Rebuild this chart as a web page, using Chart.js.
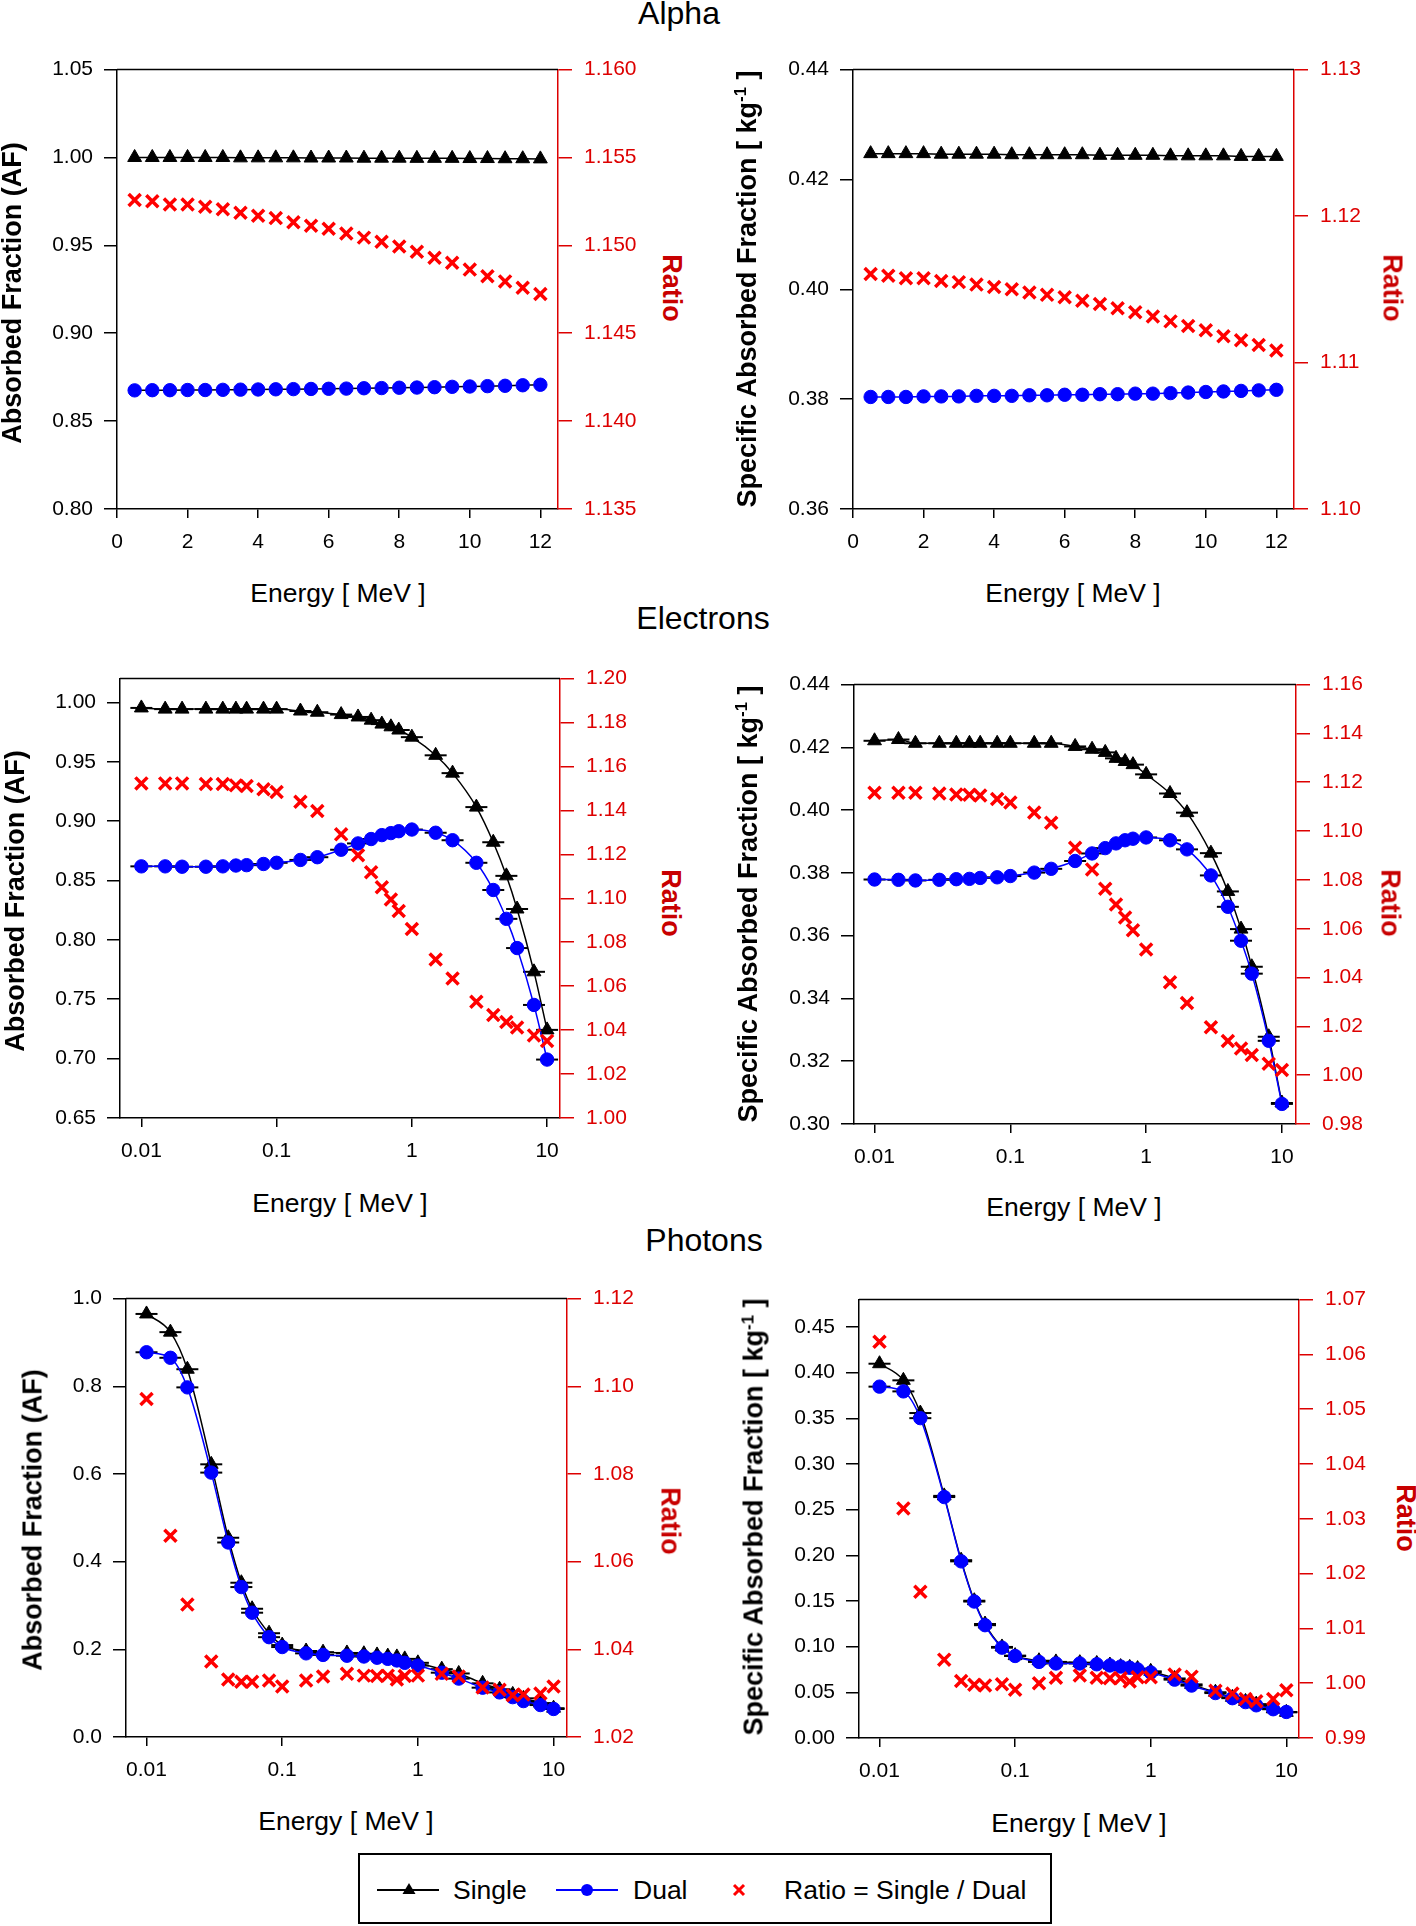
<!DOCTYPE html>
<html><head><meta charset="utf-8">
<script src="https://cdn.jsdelivr.net/npm/chart.js@4.4.1/dist/chart.umd.min.js"></script>
<style>
body{margin:0;background:#fff;width:1416px;height:1926px;position:relative;overflow:hidden;font-family:"Liberation Sans",Arial,sans-serif;color:#000;}
.t{position:absolute;white-space:nowrap;line-height:1;transform:translate(-50%,-50%);}
.title{font-size:32px;}
.xt{font-size:26.5px;}
.yt{font-size:27px;font-weight:bold;transform:translate(-50%,-50%) rotate(-90deg);}
.rt{font-size:27px;font-weight:bold;color:#c80000;transform:translate(-50%,-50%) rotate(90deg);}
.yt sup{font-size:0.62em;vertical-align:0.55em;line-height:0;}
.cv{position:absolute;}
.lg{position:absolute;font-size:26.5px;line-height:1;white-space:nowrap;transform:translateY(-50%);}
</style>
</head><body>
<script>
// ---------------- DATA ----------------
const alphaEnergy = [0.5,1,1.5,2,2.5,3,3.5,4,4.5,5,5.5,6,6.5,7,7.5,8,8.5,9,9.5,10,10.5,11,11.5,12];
const alphaAF_single = [1.000,1.000,1.000,1.000,1.000,1.000,0.9998,0.9998,0.9998,0.9998,0.9997,0.9997,0.9997,0.9996,0.9996,0.9996,0.9995,0.9995,0.9995,0.9994,0.9994,0.9993,0.9993,0.9992];
const alphaAF_dual = [0.8675,0.8676,0.8676,0.8677,0.8677,0.8678,0.8679,0.8680,0.8681,0.8682,0.8683,0.8684,0.8685,0.8687,0.8688,0.8690,0.8691,0.8693,0.8695,0.8697,0.8699,0.8701,0.8704,0.8707];
const alphaAF_ratio = [1.15258,1.15251,1.15233,1.15233,1.1522,1.15206,1.15186,1.15168,1.15155,1.15132,1.15112,1.15094,1.15067,1.15044,1.1502,1.14993,1.14964,1.1493,1.14901,1.14862,1.14824,1.14795,1.14759,1.14723];
const alphaSAF_single = [0.4247,0.4247,0.4247,0.4247,0.4246,0.4246,0.4246,0.4246,0.4245,0.4245,0.4245,0.4245,0.4245,0.4244,0.4244,0.4244,0.4244,0.4243,0.4243,0.4243,0.4243,0.4242,0.4242,0.4242];
const alphaSAF_dual = [0.3804,0.3804,0.3804,0.3805,0.3805,0.3805,0.3806,0.3806,0.3806,0.3807,0.3807,0.3808,0.3808,0.3809,0.3809,0.3810,0.3810,0.3811,0.3812,0.3813,0.3814,0.3815,0.3816,0.3817];
const alphaSAF_ratio = [1.11605,1.11592,1.11576,1.11576,1.11557,1.11549,1.11532,1.11516,1.115,1.11478,1.11462,1.11446,1.11422,1.114,1.1137,1.11344,1.11314,1.11281,1.11249,1.1122,1.11179,1.11152,1.1112,1.11082];

const elecEnergy = [0.01,0.015,0.02,0.03,0.04,0.05,0.06,0.08,0.1,0.15,0.2,0.3,0.4,0.5,0.6,0.7,0.8,1,1.5,2,3,4,5,6,8,10];
const elecAF_single = [0.9953,0.9943,0.9943,0.9943,0.9943,0.9943,0.9943,0.9943,0.9943,0.9927,0.9917,0.9897,0.9877,0.985,0.9817,0.9794,0.9767,0.9707,0.9554,0.9404,0.9118,0.8822,0.8539,0.826,0.7731,0.7242];
const elecAF_dual = [0.8619,0.8619,0.8616,0.8616,0.8619,0.8626,0.8629,0.8639,0.8649,0.8673,0.8696,0.8759,0.8812,0.8849,0.8882,0.8899,0.8915,0.8929,0.8902,0.8839,0.8649,0.842,0.8177,0.7931,0.7452,0.6992];
const elecAF_ratio = [1.1523,1.1523,1.1523,1.152,1.152,1.1514,1.1511,1.1496,1.1484,1.1439,1.1397,1.1291,1.1196,1.1119,1.105,1.0995,1.0942,1.086,1.0721,1.0635,1.0529,1.0469,1.0437,1.0412,1.0376,1.0351];
const elecSAF_single = [0.4221,0.4225,0.4213,0.4213,0.4213,0.4213,0.4213,0.4213,0.4213,0.4213,0.4213,0.4203,0.4194,0.4184,0.4165,0.4155,0.4145,0.4114,0.4053,0.3992,0.3863,0.3741,0.3621,0.3501,0.3278,0.3067];
const elecSAF_dual = [0.3779,0.3778,0.3776,0.3778,0.378,0.3781,0.3784,0.3786,0.379,0.3801,0.3813,0.3838,0.3862,0.3879,0.3894,0.3904,0.3909,0.3913,0.3904,0.3875,0.3792,0.3692,0.3584,0.3479,0.3265,0.3064];
const elecSAF_ratio = [1.1157,1.1157,1.1157,1.1154,1.115,1.1149,1.1146,1.1131,1.1117,1.1076,1.1034,1.0932,1.0843,1.0764,1.0699,1.0646,1.0594,1.0515,1.0381,1.0296,1.0196,1.014,1.0109,1.0083,1.0047,1.0021];

const photEnergy = [0.01,0.015,0.02,0.03,0.04,0.05,0.06,0.08,0.1,0.15,0.2,0.3,0.4,0.5,0.6,0.7,0.8,1,1.5,2,3,4,5,6,8,10];
const photAF_single = [0.965,0.9235,0.8389,0.622,0.4545,0.3519,0.2925,0.2367,0.2097,0.1962,0.1935,0.1917,0.1899,0.1872,0.1845,0.1827,0.1782,0.1692,0.1548,0.1449,0.1224,0.1089,0.0972,0.0882,0.0774,0.0657];
const photAF_dual = [0.8776,0.865,0.7975,0.6031,0.4437,0.342,0.2835,0.2277,0.2052,0.1908,0.1872,0.1854,0.1836,0.1809,0.1782,0.1746,0.1692,0.1629,0.1467,0.1332,0.1125,0.1017,0.0909,0.0819,0.0729,0.0639];
const photAF_ratio = [1.0971,1.0659,1.0502,1.0372,1.0331,1.0326,1.0326,1.0329,1.0315,1.0329,1.0338,1.0344,1.034,1.0339,1.034,1.0331,1.0339,1.034,1.0344,1.0338,1.0313,1.0308,1.0295,1.0297,1.0299,1.0315];
const photSAF_single = [0.4098,0.3916,0.3558,0.2651,0.1947,0.1503,0.1248,0.0997,0.0902,0.0846,0.0833,0.0825,0.0816,0.0799,0.0782,0.0773,0.076,0.073,0.0652,0.0587,0.0501,0.0445,0.0401,0.0371,0.032,0.0281];
const photSAF_dual = [0.3847,0.3795,0.3502,0.2638,0.1934,0.1494,0.1235,0.0989,0.0898,0.0833,0.0816,0.0816,0.0807,0.0794,0.0782,0.0769,0.0751,0.0717,0.0639,0.0574,0.0492,0.0436,0.0393,0.0358,0.0315,0.0285];
const photSAF_ratio = [1.0623,1.0319,1.0167,1.0043,1.0004,0.9997,0.9996,0.9998,0.9988,1.0,1.001,1.0014,1.001,1.0009,1.0009,1.0003,1.0011,1.0011,1.0016,1.0012,0.9986,0.9981,0.9971,0.9967,0.9971,0.9987];

// tick labels
const alphaXTicks = [0,2,4,6,8,10,12];
const logXTicks = [0.01,0.1,1,10];
const alphaAF_yTicks = [0.80,0.85,0.90,0.95,1.00,1.05];
const alphaAF_rTicks = [1.135,1.140,1.145,1.150,1.155,1.160];
const alphaSAF_yTicks = [0.36,0.38,0.40,0.42,0.44];
const alphaSAF_rTicks = [1.10,1.11,1.12,1.13];
const elecAF_yTicks = [0.65,0.70,0.75,0.80,0.85,0.90,0.95,1.00];
const elecAF_rTicks = [1.00,1.02,1.04,1.06,1.08,1.10,1.12,1.14,1.16,1.18,1.20];
const elecSAF_yTicks = [0.30,0.32,0.34,0.36,0.38,0.40,0.42,0.44];
const elecSAF_rTicks = [0.98,1.00,1.02,1.04,1.06,1.08,1.10,1.12,1.14,1.16];
const photAF_yTicks = [0.0,0.2,0.4,0.6,0.8,1.0];
const photAF_rTicks = [1.02,1.04,1.06,1.08,1.10,1.12];
const photSAF_yTicks = [0.00,0.05,0.10,0.15,0.20,0.25,0.30,0.35,0.40,0.45];
const photSAF_rTicks = [0.99,1.00,1.01,1.02,1.03,1.04,1.05,1.06,1.07];

// ---------------- LAYOUT ----------------
const FONT = '"Liberation Sans", Arial, sans-serif';
const PADL = 110, PADR = 90, PADT = 20, PADB = 60, TOPFIX = 4;
const RED = '#dd0000';

const framePlugin = {
  id: 'frame',
  beforeDatasetsDraw(chart, args, opts) {
    const ctx = chart.ctx, a = chart.chartArea;
    ctx.save();
    ctx.strokeStyle = '#000';
    ctx.lineWidth = 1.5;
    ctx.beginPath(); ctx.moveTo(a.left, a.top); ctx.lineTo(a.right, a.top); ctx.stroke();
    if (opts.caps) {
      ctx.lineWidth = 2;
      [0, 1].forEach(di => {
        chart.getDatasetMeta(di).data.forEach(pt => {
          ctx.beginPath(); ctx.moveTo(pt.x - 11, pt.y); ctx.lineTo(pt.x + 11, pt.y); ctx.stroke();
        });
      });
    }
    ctx.restore();
  }
};

function pts(xs, ys) { return xs.map((x, i) => ({ x: x, y: ys[i] })); }

function makePanel(p) {
  const W = p.R - p.L, H = p.B - p.T;
  const cw = W + PADL + PADR, ch = H + PADT + PADB + TOPFIX;
  const c = document.createElement('canvas');
  c.className = 'cv';
  c.width = cw; c.height = ch;
  c.style.left = (p.L - PADL) + 'px';
  c.style.top = (p.T - PADT - TOPFIX) + 'px';
  c.style.width = cw + 'px'; c.style.height = ch + 'px';
  document.body.appendChild(c);
  const smooth = p.log;
  new Chart(c, {
    type: 'line',
    data: {
      datasets: [
        { label: 'Single', data: pts(p.x, p.single), yAxisID: 'y', borderColor: '#000', backgroundColor: '#000',
          borderWidth: 1.5, pointStyle: 'triangle', pointRadius: 8, pointBorderWidth: 1, order: 2,
          cubicInterpolationMode: smooth ? 'monotone' : 'default', tension: 0 },
        { label: 'Dual', data: pts(p.x, p.dual), yAxisID: 'y', borderColor: p.dualLine, backgroundColor: '#0000ff',
          pointBorderColor: '#0000ff', borderWidth: 1.5, pointStyle: 'circle', pointRadius: 6.7, pointBorderWidth: 1, order: 1,
          cubicInterpolationMode: smooth ? 'monotone' : 'default', tension: 0 },
        { label: 'Ratio = Single / Dual', data: pts(p.x, p.ratio), yAxisID: 'y2', showLine: false,
          borderColor: '#ff0000', backgroundColor: '#ff0000', pointStyle: 'crossRot', pointRadius: 8.5,
          pointBorderWidth: 3.5, order: 0 }
      ]
    },
    options: {
      responsive: false, animation: false, devicePixelRatio: 1,
      layout: { padding: { top: PADT, left: 0, right: 0, bottom: 0 } },
      plugins: { legend: { display: false }, tooltip: { enabled: false }, frame: { caps: p.log } },
      scales: {
        x: {
          type: p.log ? 'logarithmic' : 'linear', position: 'bottom', min: p.xmin, max: p.xmax,
          afterBuildTicks: s => { s.ticks = p.xTicks.map(v => ({ value: v })); },
          afterFit: s => { s.height = PADB; },
          grid: { display: true, drawOnChartArea: false, drawTicks: true, tickLength: 9, color: '#000', lineWidth: 1.5 },
          border: { display: true, color: '#000', width: 1.5 },
          ticks: { color: '#000', font: { family: FONT, size: 21 }, padding: 12, maxRotation: 0, autoSkip: false,
                   callback: v => String(v) }
        },
        y: {
          type: 'linear', position: 'left', min: p.ymin, max: p.ymax,
          afterBuildTicks: s => { s.ticks = p.yTicks.map(v => ({ value: v })); },
          afterFit: s => { s.width = PADL; },
          grid: { display: true, drawOnChartArea: false, drawTicks: true, tickLength: 13, color: '#000', lineWidth: 1.5 },
          border: { display: true, color: '#000', width: 1.5 },
          ticks: { color: '#000', font: { family: FONT, size: 21 }, padding: 11, autoSkip: false,
                   callback: v => Number(v).toFixed(p.yDec) }
        },
        y2: {
          type: 'linear', position: 'right', min: p.rmin, max: p.rmax,
          afterBuildTicks: s => { s.ticks = p.rTicks.map(v => ({ value: v })); },
          afterFit: s => { s.width = PADR; },
          grid: { display: true, drawOnChartArea: false, drawTicks: true, tickLength: 14, color: RED, lineWidth: 1.5 },
          border: { display: true, color: RED, width: 1.5 },
          ticks: { color: RED, font: { family: FONT, size: 21 }, padding: 12, autoSkip: false,
                   callback: v => Number(v).toFixed(p.rDec) }
        }
      }
    },
    plugins: [framePlugin]
  });
}

const panels = [
  { L: 117, T: 69, R: 558, B: 509, log: false, x: alphaEnergy, single: alphaAF_single, dual: alphaAF_dual, ratio: alphaAF_ratio,
    xmin: 0, xmax: 12.5, xTicks: alphaXTicks, ymin: 0.80, ymax: 1.05, yTicks: alphaAF_yTicks, yDec: 2,
    rmin: 1.135, rmax: 1.160, rTicks: alphaAF_rTicks, rDec: 3, dualLine: '#000' },
  { L: 853, T: 69, R: 1294, B: 509, log: false, x: alphaEnergy, single: alphaSAF_single, dual: alphaSAF_dual, ratio: alphaSAF_ratio,
    xmin: 0, xmax: 12.5, xTicks: alphaXTicks, ymin: 0.36, ymax: 0.44, yTicks: alphaSAF_yTicks, yDec: 2,
    rmin: 1.10, rmax: 1.13, rTicks: alphaSAF_rTicks, rDec: 2, dualLine: '#0000ff' },
  { L: 120, T: 678, R: 560, B: 1118, log: true, x: elecEnergy, single: elecAF_single, dual: elecAF_dual, ratio: elecAF_ratio,
    xmin: 0.00695, xmax: 12.46, xTicks: logXTicks, ymin: 0.65, ymax: 1.02, yTicks: elecAF_yTicks, yDec: 2,
    rmin: 1.00, rmax: 1.20, rTicks: elecAF_rTicks, rDec: 2, dualLine: '#0000ff' },
  { L: 854, T: 684, R: 1296, B: 1124, log: true, x: elecEnergy, single: elecSAF_single, dual: elecSAF_dual, ratio: elecSAF_ratio,
    xmin: 0.00706, xmax: 12.7, xTicks: logXTicks, ymin: 0.30, ymax: 0.44, yTicks: elecSAF_yTicks, yDec: 2,
    rmin: 0.98, rmax: 1.16, rTicks: elecSAF_rTicks, rDec: 2, dualLine: '#0000ff' },
  { L: 126, T: 1298, R: 567, B: 1737, log: true, x: photEnergy, single: photAF_single, dual: photAF_dual, ratio: photAF_ratio,
    xmin: 0.00706, xmax: 12.56, xTicks: logXTicks, ymin: 0.0, ymax: 1.0, yTicks: photAF_yTicks, yDec: 1,
    rmin: 1.02, rmax: 1.12, rTicks: photAF_rTicks, rDec: 2, dualLine: '#0000ff' },
  { L: 859, T: 1299, R: 1299, B: 1738, log: true, x: photEnergy, single: photSAF_single, dual: photSAF_dual, ratio: photSAF_ratio,
    xmin: 0.00706, xmax: 12.4, xTicks: logXTicks, ymin: 0.0, ymax: 0.48, yTicks: photSAF_yTicks, yDec: 2,
    rmin: 0.99, rmax: 1.07, rTicks: photSAF_rTicks, rDec: 2, dualLine: '#0000ff' }
];
panels.forEach(makePanel);

// ---------------- TEXT ----------------
function txt(cls, x, y, html) {
  const d = document.createElement('div');
  d.className = 't ' + cls;
  d.style.left = x + 'px'; d.style.top = y + 'px';
  d.innerHTML = html;
  document.body.appendChild(d);
}
const AF = 'Absorbed Fraction (AF)';
const SAF = 'Specific Absorbed Fraction [ kg<sup>-1</sup> ]';
const EN = 'Energy [ MeV ]';
txt('title', 679, 13, 'Alpha');
txt('title', 703, 618, 'Electrons');
txt('title', 704, 1240, 'Photons');
const labelPos = [
  [AF, 12, 293, 671, 288, 338, 593],
  [SAF, 747, 289, 1392, 288, 1073, 593],
  [AF, 15, 901, 670, 903, 340, 1203],
  [SAF, 748, 904, 1390, 903, 1074, 1207],
  [AF, 33, 1520, 670, 1521, 346, 1821],
  [SAF, 754, 1517, 1405, 1518, 1079, 1823]
];
labelPos.forEach(l => {
  txt('yt', l[1], l[2], l[0]);
  txt('rt', l[3], l[4], 'Ratio');
  txt('xt', l[5], l[6], EN);
});
</script>

<!-- legend -->
<div style="position:absolute;left:358px;top:1853px;width:690px;height:67px;border:2px solid #000;box-sizing:content-box;"></div>
<svg style="position:absolute;left:358px;top:1853px;" width="700" height="72">
  <line x1="19" y1="37" x2="81" y2="37" stroke="#000" stroke-width="2"/>
  <polygon points="51,30 57.5,41 44.5,41" fill="#000"/>
  <line x1="198" y1="37" x2="260" y2="37" stroke="#0000ff" stroke-width="2"/>
  <circle cx="229" cy="37" r="6" fill="#0000ff"/>
  <line x1="376" y1="32" x2="386" y2="42" stroke="#ff0000" stroke-width="3"/>
  <line x1="386" y1="32" x2="376" y2="42" stroke="#ff0000" stroke-width="3"/>
</svg>
<div class="lg" style="left:453px;top:1890px;">Single</div>
<div class="lg" style="left:633px;top:1890px;">Dual</div>
<div class="lg" style="left:784px;top:1890px;">Ratio = Single / Dual</div>
</body></html>
